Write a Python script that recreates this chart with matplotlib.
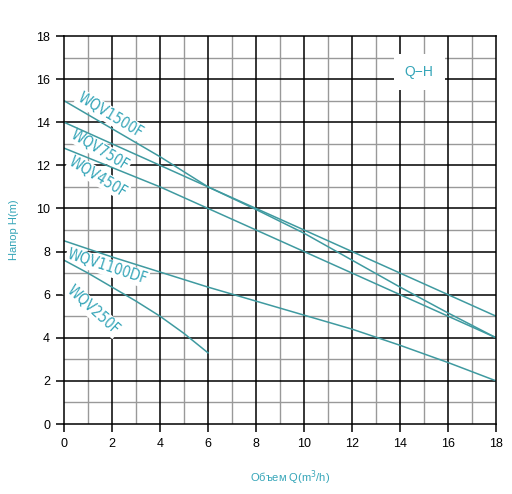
import matplotlib
matplotlib.use("Agg")
from matplotlib import pyplot as plt

# flow Q (m3/h) sample points
q_full = [0, 2, 4, 6, 8, 10, 12, 14, 16, 18]
q_250 = [0, 1, 2, 3, 4, 5, 6]

# head H (m)
h_1500 = [15.0, 13.7, 12.4, 11.0, 9.95, 8.85, 7.6, 6.35, 5.15, 4.0]
h_750 = [14.0, 13.0, 12.0, 11.0, 10.0, 9.0, 8.0, 7.0, 6.0, 5.0]
h_450 = [12.8, 11.9, 11.0, 10.0, 9.0, 8.0, 7.0, 6.0, 5.0, 4.0]
h_1100 = [8.5, 7.75, 7.05, 6.35, 5.7, 5.05, 4.4, 3.65, 2.85, 2.0]
h_250 = [7.6, 7.0, 6.35, 5.7, 5.0, 4.2, 3.3]

names = ["WQV1500F", "WQV750F", "WQV450F", "WQV1100DF", "WQV250F"]
label_pos = [(1.92, 14.33), (1.5, 12.71), (1.42, 11.46), (1.79, 7.28), (1.21, 5.28)]
label_rot = [-31, -31, -31, -18, -42]

ticks = list(range(0, 19, 2))

LINE = "#3f9aa0"
TXT = "#35a5b8"

fig = plt.figure(figsize=(5.12, 4.94), dpi=100)
ax = fig.add_axes([0.125, 0.1417, 0.844, 0.7854])
ax.set_xlim(0, 18)
ax.set_ylim(0, 18)

# grid: odd lines grey, even lines black
for v in range(1, 18, 2):
    ax.axvline(v, color="#999999", lw=1.0, zorder=1)
    ax.axhline(v, color="#999999", lw=1.0, zorder=1)
for v in range(2, 18, 2):
    ax.axvline(v, color="black", lw=1.1, zorder=1)
    ax.axhline(v, color="black", lw=1.1, zorder=1)

for s in ax.spines.values():
    s.set_linewidth(1.1)
    s.set_zorder(4)

ax.plot(q_full, h_1500, color=LINE, lw=1.1, zorder=3)
ax.plot(q_full, h_750, color=LINE, lw=1.1, zorder=3)
ax.plot(q_full, h_450, color=LINE, lw=1.1, zorder=3)
ax.plot(q_full, h_1100, color=LINE, lw=1.1, zorder=3)
ax.plot(q_250, h_250, color=LINE, lw=1.1, zorder=3)

for name, (x, y), r in zip(names, label_pos, label_rot):
    ax.text(x, y, name, rotation=r, color=TXT, fontsize=10.5,
            family="DejaVu Sans", fontstretch="condensed",
            ha="center", va="center", rotation_mode="anchor", zorder=2,
            bbox=dict(facecolor="white", edgecolor="none", pad=0.8))

ax.text(14.79, 16.33, "Q\u2212H", color=TXT, fontsize=10,
        family=["Liberation Sans", "DejaVu Sans"], ha="center", va="center", zorder=2,
        bbox=dict(facecolor="white", edgecolor="none", pad=8))

ax.set_xticks(ticks)
ax.set_yticks(ticks)
ax.tick_params(direction="out", length=6, width=1.1, labelsize=9, pad=4)
for lab in ax.get_xticklabels() + ax.get_yticklabels():
    lab.set_family(["Liberation Sans", "DejaVu Sans"])

ax.set_ylabel("Напор H(m)", color=TXT, fontsize=8,
              family=["Liberation Sans", "DejaVu Sans"], labelpad=12)
ax.set_xlabel("Объем Q(m$^3$/h)", color=TXT, fontsize=8,
              family=["Liberation Sans", "DejaVu Sans"])
ax.xaxis.set_label_coords(0.523, -0.115)

fig.savefig("out.png", dpi=100)
